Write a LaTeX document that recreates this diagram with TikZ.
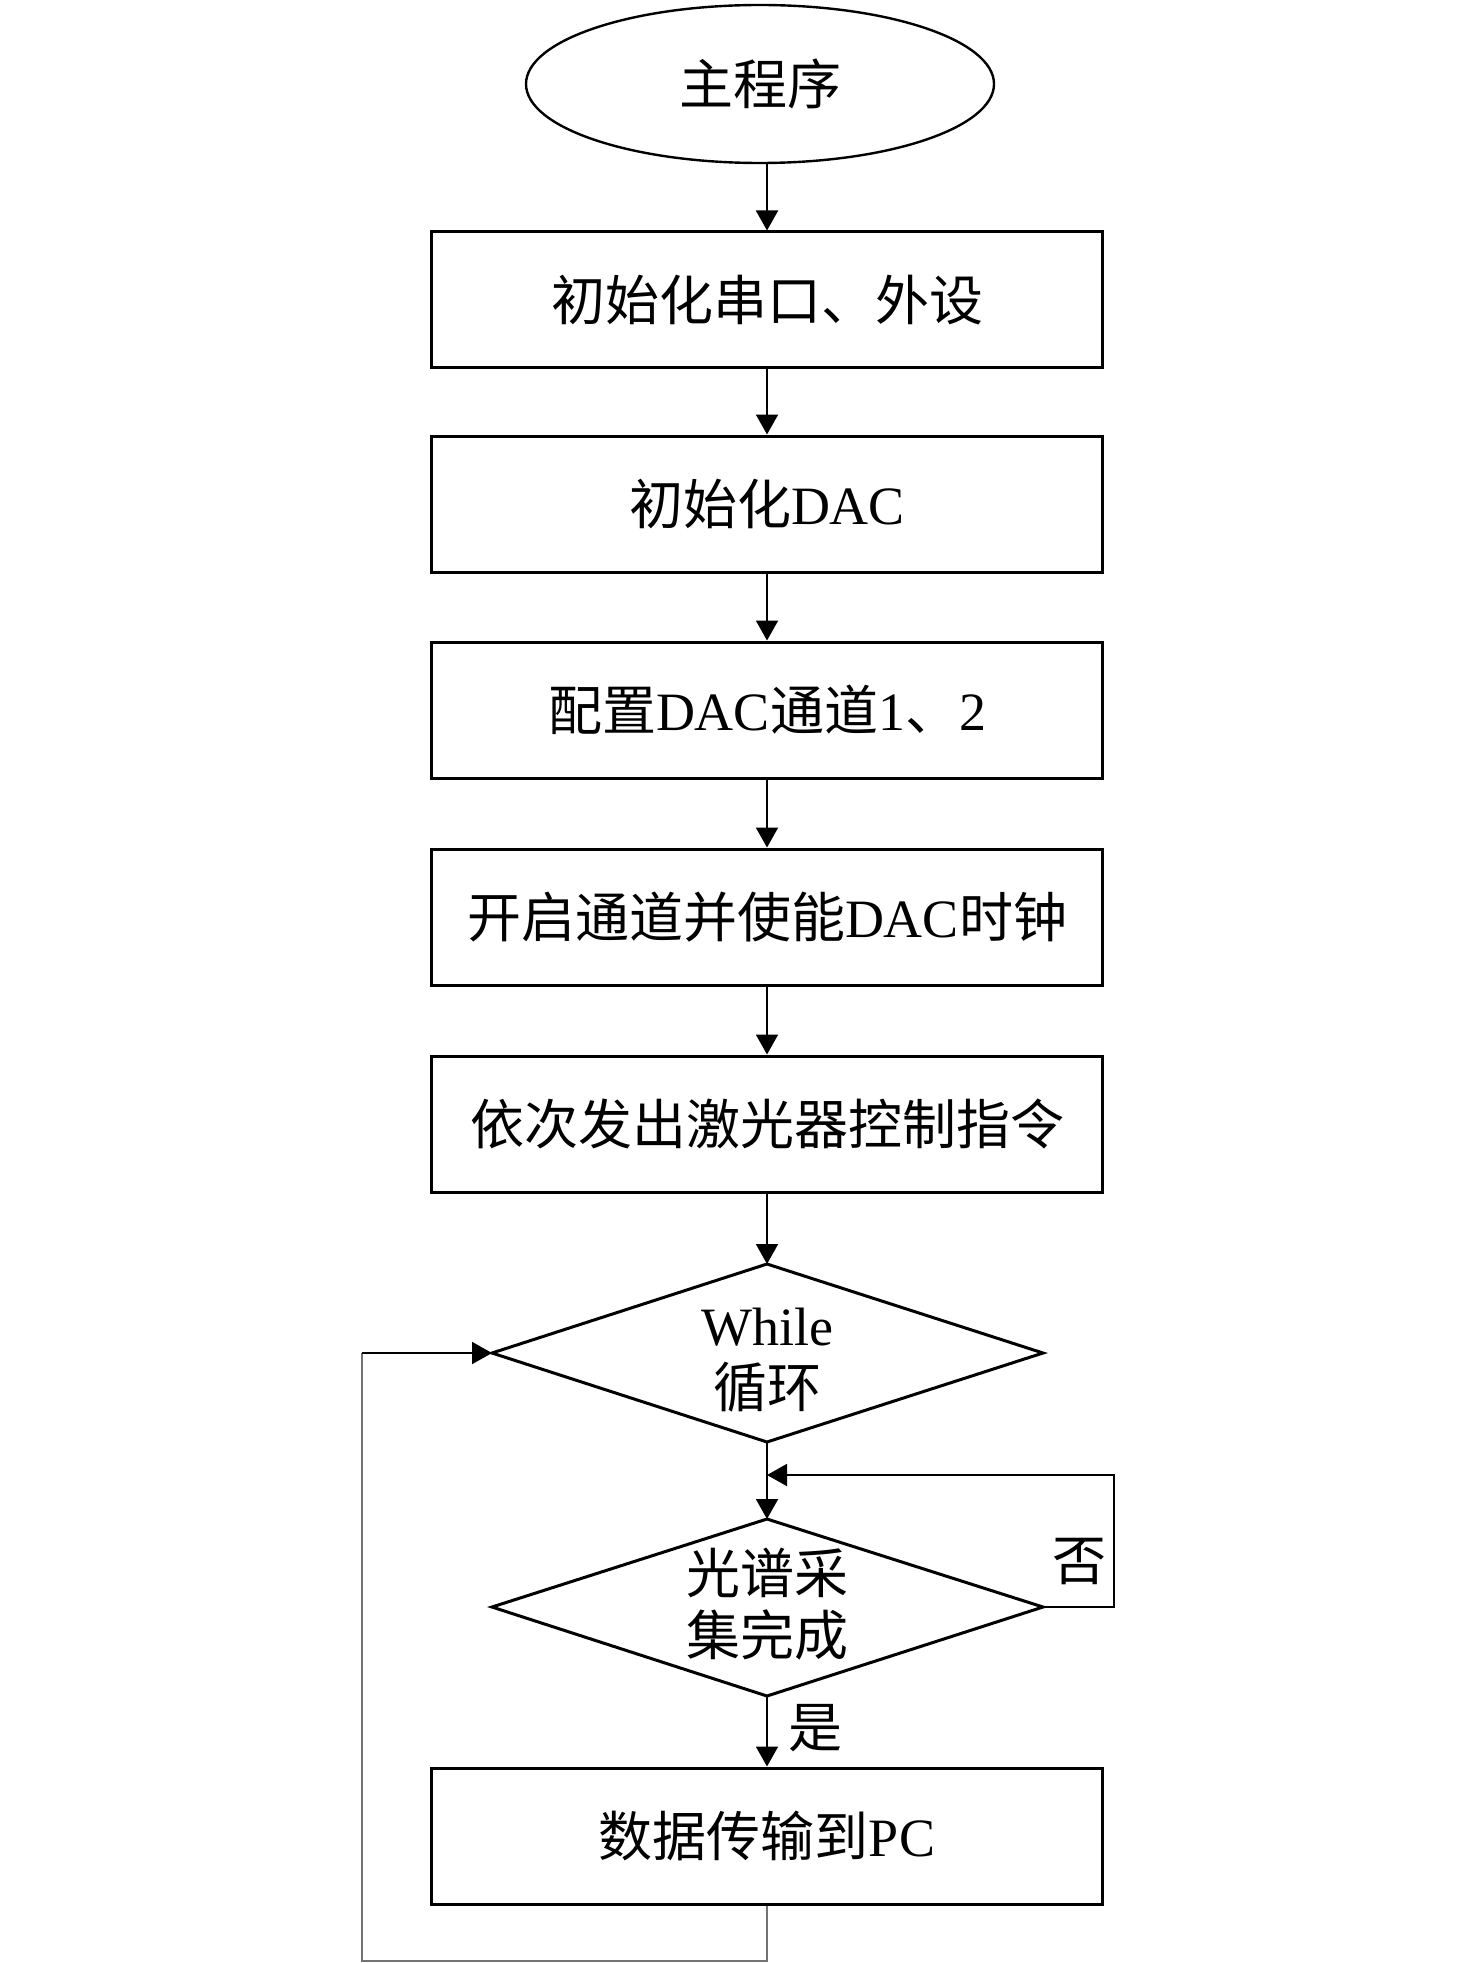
\documentclass[tikz,border=0pt]{standalone}
\usepackage{fontspec}
\setmainfont{Liberation Serif}
\newfontfamily\cjk{Noto Sans CJK SC}
\usetikzlibrary{arrows.meta,shapes.geometric}
\begin{document}
\begin{tikzpicture}[x=0.5pt,y=-0.5pt,
  box/.style={draw,line width=1.5pt,minimum width=335.5pt,minimum height=68pt,inner sep=0pt,font=\fontsize{27}{32}\selectfont},
  conn/.style={line width=1pt,-{Triangle[length=10pt,width=11pt]}},
  dia/.style={line width=1.5pt,line join=miter},
  lbl/.style={font=\fontsize{27}{31}\selectfont,align=center,inner sep=0pt},
  loopline/.style={line width=1pt,draw=black!55}]
\useasboundingbox (0,0) rectangle (1476,1963);

\node[ellipse,draw,line width=1.2pt,minimum width=234pt,minimum height=79pt,inner sep=0pt,font=\fontsize{27}{32}\selectfont] (start) at (760,84) {\cjk 主程序};

\node[box] (b1) at (767,300) {\cjk 初始化串口、外设};
\node[box] (b2) at (767,504) {{\cjk 初始化}DAC};
\node[box] (b3) at (767,710) {{\cjk 配置}DAC{\cjk 通道}1{\cjk 、}2};
\node[box] (b4) at (767,917) {{\cjk 开启通道并使能}DAC{\cjk 时钟}};
\node[box] (b5) at (767,1124) {\cjk 依次发出激光器控制指令};

% diamond 1
\coordinate (d1t) at (767,1264);
\coordinate (d1l) at (492,1353);
\coordinate (d1r) at (1043,1353);
\coordinate (d1b) at (767,1442);
\draw[dia] (d1t) -- (d1r) -- (d1b) -- (d1l) -- cycle;
\node[lbl] (d1txt) at (767,1360) {While\\{\cjk 循环}};

% diamond 2
\coordinate (d2t) at (767,1519);
\coordinate (d2l) at (492,1607);
\coordinate (d2r) at (1043,1607);
\coordinate (d2b) at (767,1696);
\draw[dia] (d2t) -- (d2r) -- (d2b) -- (d2l) -- cycle;
\node[lbl] (d2txt) at (767,1604) {\cjk 光谱采\\\cjk 集完成};

\node[box] (b6) at (767,1836) {{\cjk 数据传输到}PC};

% connectors
\draw[conn] (start.south -| b1.north) -- (b1.north);
\draw[conn] (b1.south) -- (b2.north);
\draw[conn] (b2.south) -- (b3.north);
\draw[conn] (b3.south) -- (b4.north);
\draw[conn] (b4.south) -- (b5.north);
\draw[conn] (b5.south) -- (d1t);
\draw[conn] (d1b) -- (d2t);

\coordinate (nojoin) at (767,1475);
\draw[conn] (d2r) -- (1114,1607) -- (1114,1475) -- (nojoin);
\node[lbl] (nolbl) at (1079,1562) {\cjk 否};

\draw[conn] (d2b) -- (b6.north);
\node[lbl] (yeslbl) at (815,1728) {\cjk 是};

\draw[loopline] (b6.south) -- (767,1961) -- (362,1961) -- (362,1353);
\draw[conn] (362,1353) -- (d1l);
\end{tikzpicture}
\end{document}
